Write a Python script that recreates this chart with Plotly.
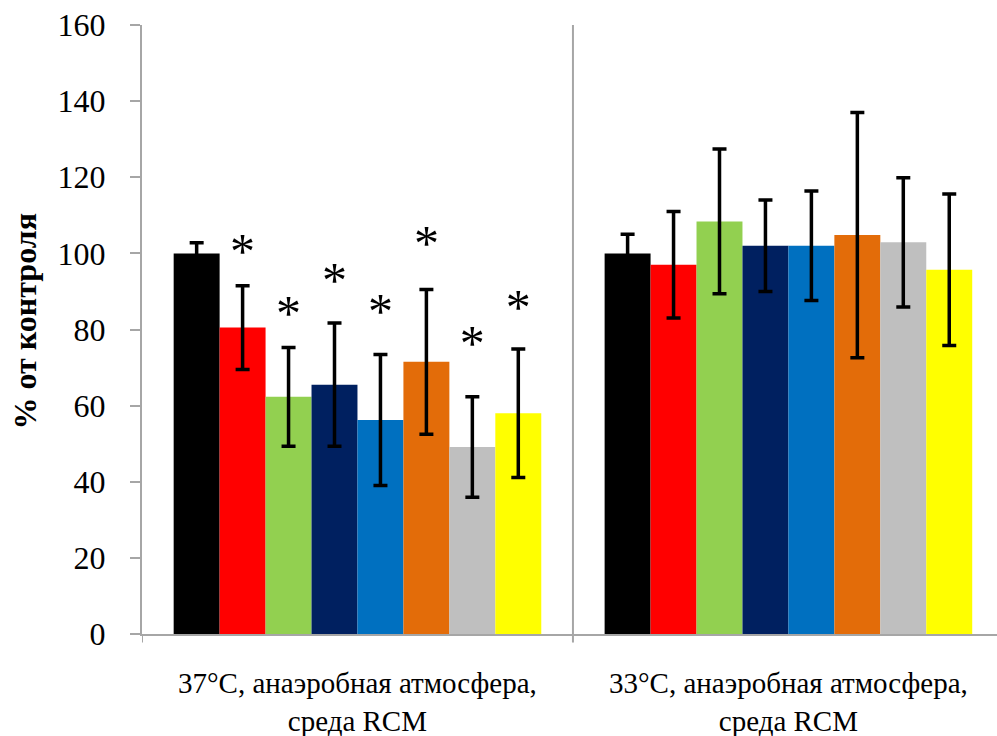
import plotly.graph_objects as go

# Growth conditions (x categories), two text lines each
categories = [
    ["37°C, анаэробная атмосфера,", "среда RCM"],
    ["33°C, анаэробная атмосфера,", "среда RCM"],
]

# Mean values, % of control, one list per strain/treatment series
series_values = [
    [100.0, 100.0],
    [80.5, 97.0],
    [62.3, 108.4],
    [65.5, 102.0],
    [56.2, 102.0],
    [71.5, 104.8],
    [49.1, 102.9],
    [58.0, 95.7],
]

# Standard deviations
series_errors = [
    [2.8, 5.0],
    [11.0, 14.0],
    [13.0, 19.0],
    [16.2, 12.0],
    [17.2, 14.4],
    [19.0, 32.2],
    [13.2, 17.0],
    [16.9, 19.9],
]

# Significance marks (p < 0.05 vs. control) and the level each is written at
significance = [
    ["", ""],
    ["*", ""],
    ["*", ""],
    ["*", ""],
    ["*", ""],
    ["*", ""],
    ["*", ""],
    ["*", ""],
]
mark_levels = [
    [None, None],
    [99.4, None],
    [83.2, None],
    [91.8, None],
    [83.6, None],
    [101.6, None],
    [75.4, None],
    [84.6, None],
]

colors = ["#000000", "#FF0000", "#92D050", "#002060",
          "#0070C0", "#E36C09", "#BFBFBF", "#FFFF00"]

y_ticks = [0, 20, 40, 60, 80, 100, 120, 140, 160]

SERIF = "Liberation Serif"
AXIS_GRAY = "#A6A6A6"
GAP = 0.147

fig = go.Figure()

for i, (vals, errs, col) in enumerate(zip(series_values, series_errors, colors)):
    fig.add_trace(go.Bar(
        x=[0, 1],
        y=vals,
        marker=dict(color=col, line=dict(width=0)),
        error_y=dict(type="data", array=errs, visible=True,
                     color="#000000", thickness=3.5, width=7),
        offsetgroup=str(i),
        showlegend=False,
    ))

for i, (levels, marks) in enumerate(zip(mark_levels, significance)):
    fig.add_trace(go.Scatter(
        x=[0, 1],
        y=levels,
        mode="text",
        text=marks,
        textposition="middle center",
        textfont=dict(family=SERIF, size=50, color="#000000"),
        offsetgroup=str(i),
        showlegend=False,
        hoverinfo="skip",
    ))

# separator between the two condition groups
fig.add_shape(type="line", xref="x", yref="y", x0=0.5, x1=0.5, y0=0, y1=160,
              line=dict(color=AXIS_GRAY, width=2))

# boundary tick marks under the category axis
for xb in [-0.5, 0.5]:
    fig.add_shape(type="line", xref="x", yref="paper", x0=xb, x1=xb, y0=0, y1=-0.014,
                  line=dict(color=AXIS_GRAY, width=2))

# category labels
for ci, lines in enumerate(categories):
    fig.add_annotation(
        x=ci, xref="x", y=0, yref="paper",
        text="<br>".join(lines), showarrow=False,
        yanchor="middle", yshift=-68,
        font=dict(family=SERIF, size=29, color="#000000"),
    )

# y-axis title
fig.add_annotation(
    x=0, xref="paper", xshift=-118, y=0.5, yref="paper", yshift=8,
    text="<b>% от контроля</b>", textangle=-90, showarrow=False,
    xanchor="center", yanchor="middle",
    font=dict(family=SERIF, size=32, color="#000000"),
)

fig.update_layout(
    width=997,
    height=736,
    margin=dict(l=142, r=0, t=25, b=102),
    paper_bgcolor="white",
    plot_bgcolor="white",
    barmode="group",
    bargap=GAP,
    bargroupgap=0,
    scattermode="group",
    scattergap=GAP,
    font=dict(family=SERIF, color="#000000"),
)

fig.update_xaxes(
    type="linear",
    range=[-0.5, 1.484],
    showticklabels=False,
    ticks="",
    showline=True,
    linecolor=AXIS_GRAY,
    linewidth=2,
    showgrid=False,
    zeroline=False,
)

fig.update_yaxes(
    range=[0, 160],
    tickmode="array",
    tickvals=y_ticks,
    tickfont=dict(family=SERIF, size=32),
    ticks="outside",
    ticklen=10,
    tickwidth=2,
    tickcolor=AXIS_GRAY,
    ticklabelstandoff=18,
    showline=True,
    linecolor=AXIS_GRAY,
    linewidth=2,
    showgrid=False,
    zeroline=False,
)

fig.write_html("out.html")
